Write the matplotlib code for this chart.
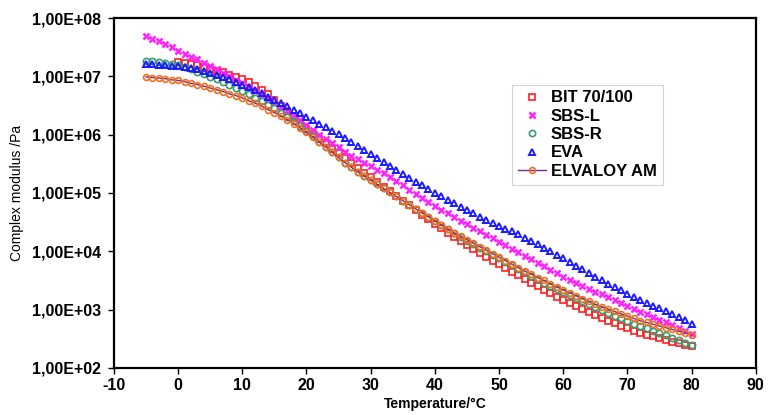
import matplotlib
matplotlib.use("Agg")
import matplotlib.pyplot as plt
import numpy as np
from matplotlib.ticker import FixedLocator, NullLocator

# Temperature grids (°C)
temp_all = list(range(-5, 81))
temp_bit = list(range(0, 81))

# log10 of complex modulus (Pa)
log_bit = [7.25, 7.23, 7.21, 7.19, 7.16, 7.13, 7.10, 7.07, 7.03, 6.99,
           6.95, 6.90, 6.84, 6.77, 6.69, 6.60, 6.50, 6.40, 6.30, 6.20,
           6.10, 6.01, 5.93, 5.85, 5.76, 5.68, 5.60, 5.51, 5.43, 5.35,
           5.27, 5.19, 5.11, 5.03, 4.95, 4.87, 4.79, 4.71, 4.63, 4.55,
           4.47, 4.40, 4.32, 4.25, 4.18, 4.11, 4.04, 3.97, 3.91, 3.84,
           3.78, 3.72, 3.65, 3.59, 3.52, 3.46, 3.40, 3.34, 3.28, 3.22,
           3.16, 3.11, 3.06, 3.01, 2.96, 2.91, 2.86, 2.81, 2.77, 2.72,
           2.68, 2.64, 2.60, 2.57, 2.54, 2.51, 2.48, 2.45, 2.43, 2.40, 2.38]

log_sbsl = [7.69, 7.64, 7.60, 7.55, 7.50, 7.44, 7.39, 7.34, 7.29, 7.23,
            7.17, 7.12, 7.06, 7.00, 6.94, 6.88, 6.81, 6.75, 6.68, 6.62,
            6.55, 6.48, 6.41, 6.34, 6.25, 6.17, 6.08, 6.00, 5.92, 5.85,
            5.78, 5.71, 5.64, 5.58, 5.52, 5.46, 5.40, 5.34, 5.27, 5.20,
            5.13, 5.05, 4.98, 4.92, 4.85, 4.78, 4.71, 4.65, 4.59, 4.52,
            4.46, 4.40, 4.34, 4.28, 4.22, 4.16, 4.10, 4.04, 3.98, 3.92,
            3.86, 3.80, 3.74, 3.68, 3.62, 3.56, 3.51, 3.46, 3.41, 3.36,
            3.31, 3.26, 3.21, 3.16, 3.11, 3.06, 3.01, 2.96, 2.92, 2.88,
            2.83, 2.79, 2.74, 2.69, 2.64, 2.59]

log_sbsr = [7.27, 7.26, 7.24, 7.23, 7.21, 7.19, 7.16, 7.12, 7.08, 7.04,
            6.99, 6.95, 6.90, 6.85, 6.80, 6.75, 6.69, 6.63, 6.57, 6.51,
            6.45, 6.38, 6.31, 6.24, 6.15, 6.06, 5.97, 5.88, 5.79, 5.70,
            5.61, 5.52, 5.44, 5.36, 5.29, 5.22, 5.15, 5.08, 5.01, 4.94,
            4.87, 4.80, 4.73, 4.66, 4.59, 4.52, 4.45, 4.38, 4.31, 4.24,
            4.18, 4.12, 4.06, 4.00, 3.94, 3.88, 3.82, 3.76, 3.70, 3.64,
            3.58, 3.52, 3.46, 3.41, 3.35, 3.30, 3.25, 3.20, 3.14, 3.09,
            3.04, 2.99, 2.94, 2.89, 2.85, 2.80, 2.76, 2.72, 2.68, 2.64,
            2.60, 2.56, 2.52, 2.48, 2.43, 2.39]

log_eva = [7.22, 7.21, 7.20, 7.19, 7.18, 7.17, 7.155, 7.14, 7.12, 7.09,
           7.06, 7.03, 6.99, 6.95, 6.90, 6.86, 6.81, 6.76, 6.71, 6.65,
           6.60, 6.54, 6.49, 6.43, 6.37, 6.31, 6.25, 6.19, 6.13, 6.07,
           6.01, 5.94, 5.88, 5.81, 5.74, 5.67, 5.60, 5.53, 5.46, 5.39,
           5.32, 5.25, 5.19, 5.13, 5.07, 5.00, 4.94, 4.88, 4.82, 4.76,
           4.71, 4.65, 4.59, 4.54, 4.49, 4.44, 4.39, 4.34, 4.29, 4.23,
           4.18, 4.12, 4.06, 4.00, 3.94, 3.88, 3.82, 3.75, 3.69, 3.62,
           3.56, 3.50, 3.44, 3.38, 3.33, 3.27, 3.22, 3.17, 3.12, 3.07,
           3.02, 2.97, 2.92, 2.87, 2.82, 2.76]

log_elv = [6.99, 6.98, 6.97, 6.96, 6.94, 6.93, 6.91, 6.88, 6.86, 6.83,
           6.80, 6.77, 6.74, 6.70, 6.67, 6.63, 6.58, 6.54, 6.49, 6.43,
           6.38, 6.32, 6.26, 6.19, 6.12, 6.04, 5.96, 5.87, 5.79, 5.70,
           5.61, 5.52, 5.44, 5.36, 5.29, 5.22, 5.15, 5.08, 5.01, 4.94,
           4.87, 4.80, 4.73, 4.66, 4.59, 4.52, 4.45, 4.39, 4.32, 4.26,
           4.20, 4.14, 4.08, 4.02, 3.96, 3.90, 3.84, 3.78, 3.72, 3.66,
           3.61, 3.55, 3.50, 3.44, 3.39, 3.34, 3.29, 3.24, 3.19, 3.14,
           3.09, 3.05, 3.01, 2.97, 2.93, 2.89, 2.85, 2.81, 2.78, 2.75,
           2.72, 2.69, 2.66, 2.63, 2.60, 2.57]

series_names = ["BIT 70/100", "SBS-L", "SBS-R", "EVA", "ELVALOY AM"]
y_ticks = [1e2, 1e3, 1e4, 1e5, 1e6, 1e7, 1e8]
y_tick_labels = ["1,00E+02", "1,00E+03", "1,00E+04", "1,00E+05",
                 "1,00E+06", "1,00E+07", "1,00E+08"]
x_ticks = list(range(-10, 91, 10))

plt.rcParams['font.family'] = ['Liberation Sans', 'DejaVu Sans']

fig = plt.figure(figsize=(7.68, 4.15), dpi=100)
ax = fig.add_axes([0.1484, 0.1133, 0.8356, 0.8433])

def lin(v):
    return [10 ** a for a in v]

ax.plot(temp_bit, lin(log_bit), linestyle='none', marker='s', markersize=4.8,
        markerfacecolor='none', markeredgecolor='#ff2020', markeredgewidth=1.2,
        label=series_names[0])
ax.plot(temp_all, lin(log_sbsl), linestyle='none', marker='x', markersize=4.8,
        color='#ff20ff', markeredgewidth=1.8, label=series_names[1])
ax.plot(temp_all, lin(log_sbsr), linestyle='none', marker='o', markersize=4.5,
        markerfacecolor='none', markeredgecolor='#3c9a6e', markeredgewidth=1.2,
        label=series_names[2])
ax.plot(temp_all, lin(log_eva), linestyle='none', marker='^', markersize=4.8,
        markerfacecolor='none', markeredgecolor='#1a1aff', markeredgewidth=1.4,
        label=series_names[3])
ax.plot(temp_all, lin(log_elv), linestyle='-', color='#7a2a8a', linewidth=1.0,
        marker='o', markersize=4.2, markerfacecolor='none',
        markeredgecolor='#f07020', markeredgewidth=1.2, label=series_names[4])

ax.set_yscale('log')
ax.set_ylim(1e2, 1e8)
ax.set_xlim(-10, 90)
ax.yaxis.set_major_locator(FixedLocator(y_ticks))
ax.yaxis.set_minor_locator(NullLocator())
ax.set_yticklabels(y_tick_labels)
ax.set_xticks(x_ticks)
ax.set_xticklabels([str(t) for t in x_ticks])

for lab in ax.get_yticklabels() + ax.get_xticklabels():
    lab.set_fontweight('bold')
    lab.set_fontsize(11.5)

ax.tick_params(axis='both', direction='out', length=4, width=1.0)
ax.tick_params(axis='y', pad=5)
ax.tick_params(axis='x', pad=3)
for s in ax.spines.values():
    s.set_linewidth(1.6)
    s.set_color('black')

ax.set_ylabel("Complex modulus /Pa", fontsize=10, labelpad=6)
ax.set_xlabel("Temperature/°C", fontsize=10, fontweight='bold', labelpad=3)

leg = ax.legend(loc='upper left', bbox_to_anchor=(0.62, 0.81), frameon=True,
                fancybox=False, edgecolor='#c8c8c8',
                prop={'weight': 'bold', 'size': 12}, handlelength=1.7,
                handletextpad=0.3, borderpad=0.35, labelspacing=0.2,
                borderaxespad=0.0)
leg.get_frame().set_linewidth(0.8)

fig.savefig("out.png", dpi=100)
